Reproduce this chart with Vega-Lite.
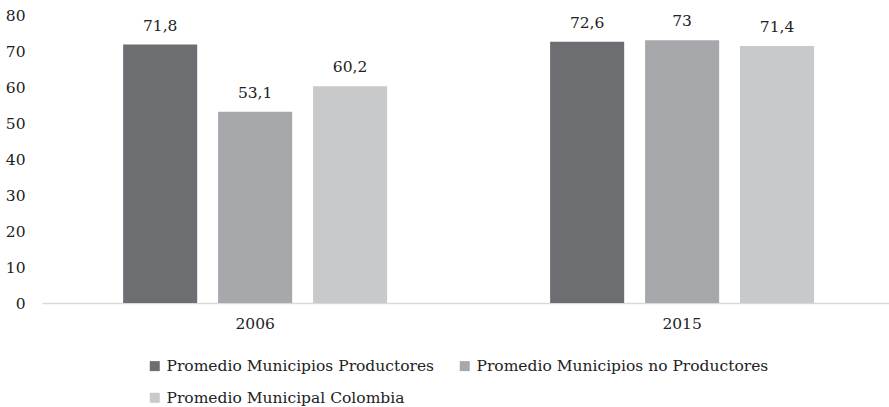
{
  "$schema": "https://vega.github.io/schema/vega-lite/v6.json",
  "width": 847,
  "height": 288,
  "autosize": {"type": "none"},
  "padding": {"left": 42, "top": 15, "right": 0, "bottom": 104},
  "background": "white",
  "config": {"view": {"stroke": null}, "font": "DejaVu Serif"},
  "data": {
    "values": [
      {"year": "2006", "serie": "Promedio Municipios Productores", "valor": 71.8, "label": "71,8"},
      {"year": "2006", "serie": "Promedio Municipios no Productores", "valor": 53.1, "label": "53,1"},
      {"year": "2006", "serie": "Promedio Municipal Colombia", "valor": 60.2, "label": "60,2"},
      {"year": "2015", "serie": "Promedio Municipios Productores", "valor": 72.6, "label": "72,6"},
      {"year": "2015", "serie": "Promedio Municipios no Productores", "valor": 73, "label": "73"},
      {"year": "2015", "serie": "Promedio Municipal Colombia", "valor": 71.4, "label": "71,4"}
    ]
  },
  "encoding": {
    "x": {
      "field": "year", "type": "nominal",
      "scale": {"paddingInner": 0.3817, "paddingOuter": 0.1827, "align": 0.52},
      "axis": {"title": null, "labelAngle": 0, "ticks": false, "domainColor": "#d9d9d9", "domainWidth": 1.5, "labelFontSize": 15.5, "labelPadding": 13, "labelColor": "#222", "labelFont": "DejaVu Serif"}
    },
    "xOffset": {
      "field": "serie", "type": "nominal",
      "sort": ["Promedio Municipios Productores", "Promedio Municipios no Productores", "Promedio Municipal Colombia"],
      "scale": {"paddingInner": 0.22, "paddingOuter": 0}
    },
    "y": {
      "field": "valor", "type": "quantitative",
      "scale": {"domain": [0, 80]},
      "axis": {"title": null, "domain": false, "ticks": false, "grid": false, "values": [0, 10, 20, 30, 40, 50, 60, 70, 80], "labelFontSize": 15.5, "labelColor": "#222", "labelPadding": 17, "labelFont": "DejaVu Serif"}
    }
  },
  "layer": [
    {
      "mark": {"type": "bar"},
      "encoding": {
        "color": {
          "field": "serie", "type": "nominal",
          "sort": ["Promedio Municipios Productores", "Promedio Municipios no Productores", "Promedio Municipal Colombia"],
          "scale": {"domain": ["Promedio Municipios Productores", "Promedio Municipios no Productores", "Promedio Municipal Colombia"], "range": ["#6d6e71", "#a7a8ab", "#c8c9cb"]},
          "legend": {"orient": "none", "legendX": 105, "legendY": 343, "direction": "horizontal", "columns": 2, "title": null, "symbolType": "square", "symbolSize": 100, "symbolStrokeWidth": 0, "labelFontSize": 15.5, "labelFont": "DejaVu Serif", "labelColor": "#222", "columnPadding": 22, "rowPadding": 15, "labelLimit": 400, "labelOffset": 4}
        }
      }
    },
    {
      "mark": {"type": "text", "dy": -14, "baseline": "alphabetic", "fontSize": 15.5, "color": "#222", "font": "DejaVu Serif"},
      "encoding": {"text": {"field": "label", "type": "nominal"}}
    }
  ]
}
